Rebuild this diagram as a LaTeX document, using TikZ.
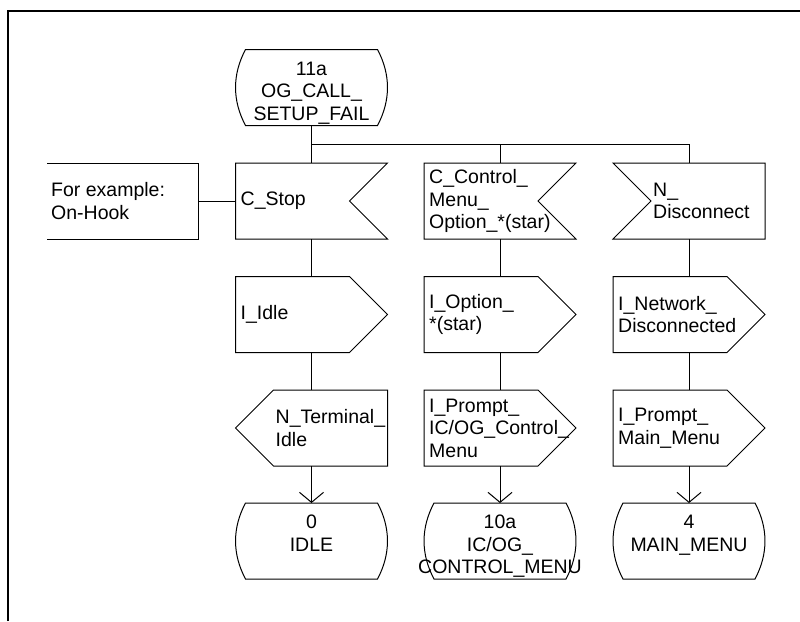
\documentclass[tikz,border=0pt]{standalone}
\usepackage{fontspec}
\setmainfont{Liberation Sans}
\usetikzlibrary{arrows.meta}

% SDL symbol outlines, drawn round the centre of a named node (152 x 76)
\newcommand\sdlStateShape[1]{\begin{scope}[shift={(#1.center)}]
  \draw[wire] (-66,-38) -- (66,-38) .. controls (79.3,-13) and (79.3,13) .. (66,38)
    -- (-66,38) .. controls (-79.3,13) and (-79.3,-13) .. cycle;\end{scope}}
\newcommand\sdlInputShape[1]{\begin{scope}[shift={(#1.center)}]
  \draw[wire] (-76,-38) -- (76,-38) -- (38,0) -- (76,38) -- (-76,38) -- cycle;\end{scope}}
\newcommand\sdlInputShapeL[1]{\begin{scope}[shift={(#1.center)}]
  \draw[wire] (-76,-38) -- (76,-38) -- (76,38) -- (-76,38) -- (-38,0) -- cycle;\end{scope}}
\newcommand\sdlOutputShape[1]{\begin{scope}[shift={(#1.center)}]
  \draw[wire] (-76,-38) -- (38,-38) -- (76,0) -- (38,38) -- (-76,38) -- cycle;\end{scope}}
\newcommand\sdlOutputShapeL[1]{\begin{scope}[shift={(#1.center)}]
  \draw[wire] (76,-38) -- (-38,-38) -- (-76,0) -- (-38,38) -- (76,38) -- cycle;\end{scope}}

\tikzset{
  wire/.style={line width=1pt},
  flow/.style={wire, -{Straight Barb[length=10pt,width=24pt]}},
  sdl/.style={rectangle, minimum width=152pt, minimum height=76pt, inner sep=0pt, outer sep=0pt},
  lbl/.style={font=\fontsize{19.5}{22.5}\selectfont, inner sep=0pt, align=left, anchor=west},
  ctr/.style={font=\fontsize{19.5}{22.5}\selectfont, inner sep=0pt, align=center, anchor=north},
}

\begin{document}
\begin{tikzpicture}[x=1pt,y=-1pt]
\useasboundingbox (0,0) rectangle (800,621);

% page frame
\draw[line width=2pt] (7.8,621) -- (7.8,11) -- (800,11);

% start state
\node[sdl] (start) at (311.5,87.5) {};
\node[ctr] (start-t) at ([yshift=-12pt]start.north) {11a\\OG\_CALL\_\\SETUP\_FAIL};
\sdlStateShape{start}

% comment
\node[sdl, minimum width=151pt] (note) at (122.5,201) {};
\node[lbl] (note-t) at ([xshift=4pt]note.west) {For example:\\On-Hook};
\draw[wire] (note.north west) -- (note.north east) -- (note.south east) -- (note.south west);

% column 1
\node[sdl] (stop) at (311.5,201) {};
\node[lbl] (stop-t) at ([xshift=5pt]stop.west) {C\_Stop};
\sdlInputShape{stop}
\node[sdl] (iidle) at (311.5,314.5) {};
\node[lbl] (iidle-t) at ([xshift=5pt]iidle.west) {I\_Idle};
\sdlOutputShape{iidle}
\node[sdl] (term) at (311.5,428) {};
\node[lbl] (term-t) at ([xshift=40pt]term.west) {N\_Terminal\_\\Idle};
\sdlOutputShapeL{term}
\node[sdl] (s0) at (311.5,541) {};
\node[ctr] (s0-t) at ([yshift=-12pt]s0.north) {0\\IDLE};
\sdlStateShape{s0}

% column 2
\node[sdl] (ctrl) at (500,201) {};
\node[lbl] (ctrl-t) at ([xshift=5pt]ctrl.west) {C\_Control\_\\Menu\_\\Option\_*(star)};
\sdlInputShape{ctrl}
\node[sdl] (iopt) at (500,314.5) {};
\node[lbl] (iopt-t) at ([xshift=5pt]iopt.west) {I\_Option\_\\*(star)};
\sdlOutputShape{iopt}
\node[sdl] (pctl) at (500,428) {};
\node[lbl] (pctl-t) at ([xshift=5pt]pctl.west) {I\_Prompt\_\\IC/OG\_Control\_\\Menu};
\sdlOutputShape{pctl}
\node[sdl] (s10a) at (500,541) {};
\node[ctr] (s10a-t) at ([yshift=-12pt]s10a.north) {10a\\IC/OG\_\\CONTROL\_MENU};
\sdlStateShape{s10a}

% column 3
\node[sdl] (disc) at (689,201) {};
\node[lbl] (disc-t) at ([xshift=40pt]disc.west) {N\_\\Disconnect};
\sdlInputShapeL{disc}
\node[sdl] (inet) at (689,314.5) {};
\node[lbl] (inet-t) at ([xshift=5pt]inet.west) {I\_Network\_\\Disconnected};
\sdlOutputShape{inet}
\node[sdl] (pmain) at (689,428) {};
\node[lbl] (pmain-t) at ([xshift=5pt]pmain.west) {I\_Prompt\_\\Main\_Menu};
\sdlOutputShape{pmain}
\node[sdl] (s4) at (689,541) {};
\node[ctr] (s4-t) at ([yshift=-12pt]s4.north) {4\\MAIN\_MENU};
\sdlStateShape{s4}

% connectors
\coordinate (bus) at (311.5,144);
\draw[wire] (start.south) -- (stop.north);
\draw[wire] (bus) -- (disc.north |- bus) -- (disc.north);
\draw[wire] (ctrl.north |- bus) -- (ctrl.north);
\draw[wire] (note.east) -- (stop.west);

\draw[wire] (stop.south) -- (iidle.north);
\draw[wire] (iidle.south) -- (term.north);
\draw[flow] (term.south) -- (s0.north);

\draw[wire] (ctrl.south) -- (iopt.north);
\draw[wire] (iopt.south) -- (pctl.north);
\draw[flow] (pctl.south) -- (s10a.north);

\draw[wire] (disc.south) -- (inet.north);
\draw[wire] (inet.south) -- (pmain.north);
\draw[flow] (pmain.south) -- (s4.north);
\end{tikzpicture}
\end{document}
